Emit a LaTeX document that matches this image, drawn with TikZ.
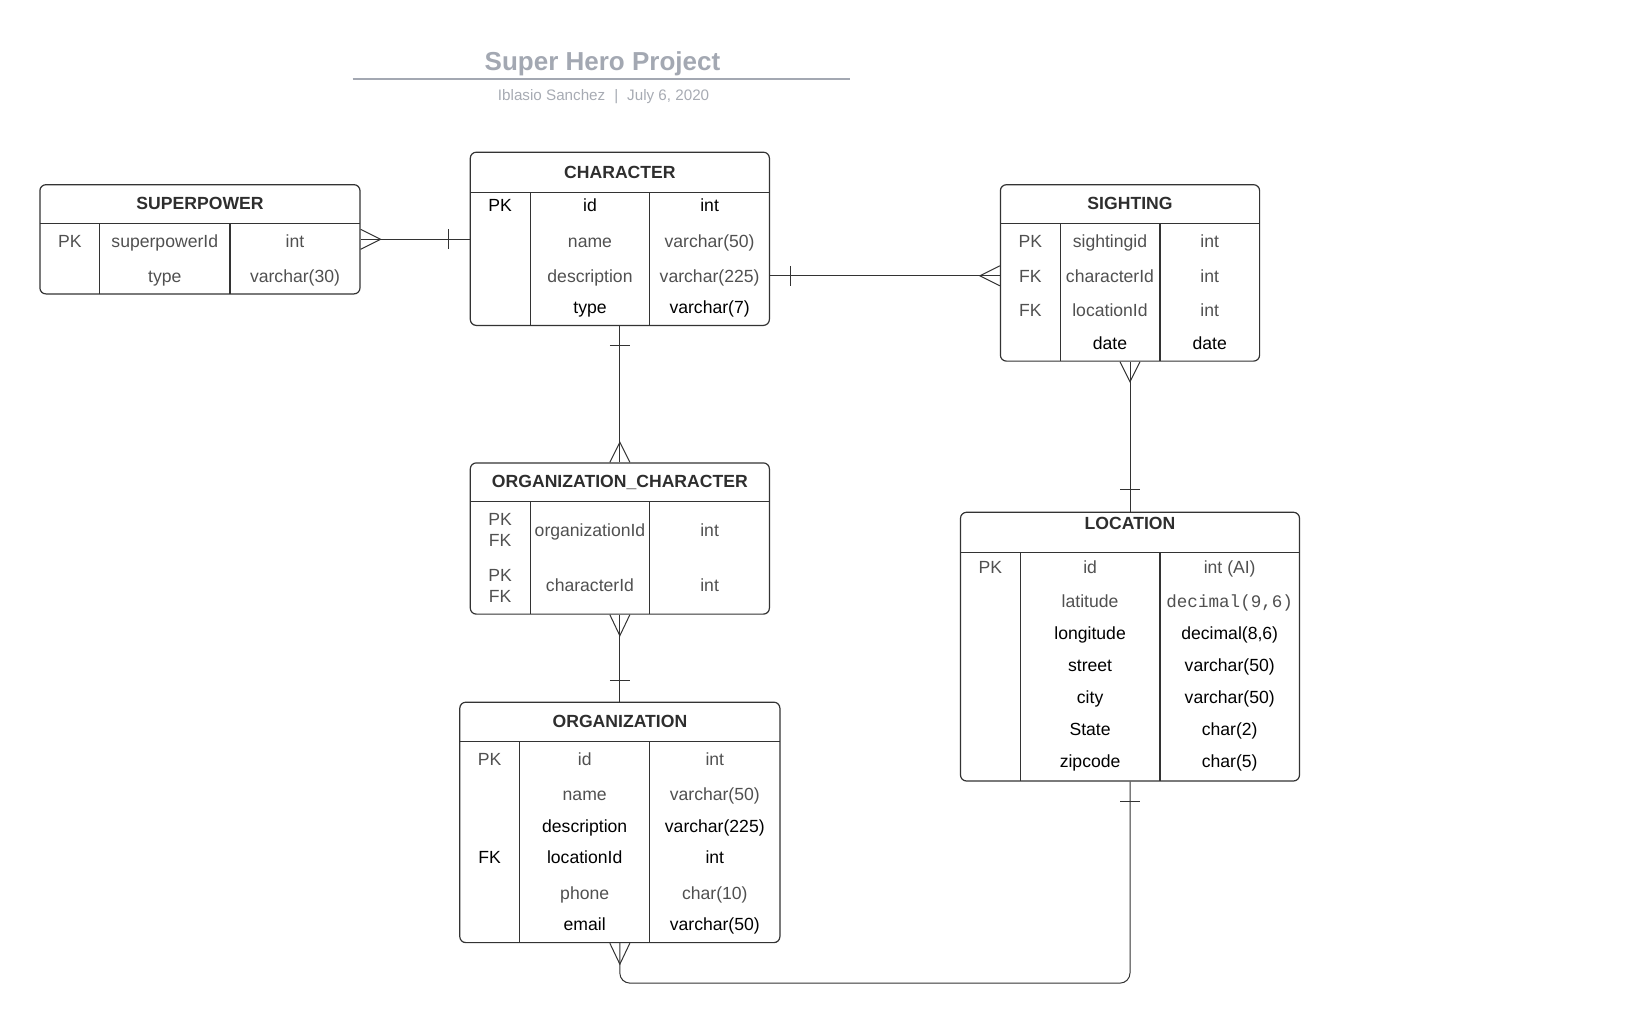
\documentclass[tikz,border=0pt]{standalone}
\usepackage{fontspec}
\setmainfont{Liberation Sans}
\setmonofont{Liberation Mono}
\usetikzlibrary{calc,fit}
\definecolor{linegray}{HTML}{333333}
\definecolor{headgray}{HTML}{2E2E2E}
\definecolor{txtgray}{HTML}{505050}
\definecolor{titlegray}{HTML}{A3A8B2}
\definecolor{subgray}{HTML}{A7ABB3}

\begin{document}
\begin{tikzpicture}[x=0.5pt,y=-0.5pt,
        tbl/.style={rectangle, draw=linegray, line width=0.6pt, rounded corners=3pt, inner sep=0pt},
        head/.style={font=\fontsize{8.8}{10.5}\selectfont\bfseries, text=headgray, inner sep=0pt},
        cell/.style={font=\fontsize{8.8}{10.5}\selectfont, text height=7.6pt, text depth=0.4pt, inner sep=0pt},
        sep/.style={draw=linegray, line width=0.6pt},
        rel/.style={draw=linegray, line width=0.5pt}]
    \useasboundingbox (0,0) rectangle (1646,1024);

    % title
    \node[font=\fontsize{13}{15}\selectfont\bfseries, text=titlegray] (title) at (602.5,63.8) {Super Hero Project};
    \draw[titlegray, line width=0.8pt] (352.7,78.7) -- (850.3,78.7);
    \node[font=\fontsize{7.6}{9}\selectfont, text=subgray] (byline) at (603.6,96.6) {Iblasio Sanchez\hspace{4.5pt}|\hspace{4.5pt}July 6, 2020};

    % SUPERPOWER
    \node[tbl, fit={(39.9,184.7) (360,293.9)}] (SP) {};
    \draw[sep] (39.9,223.6) -- (360,223.6);
    \draw[sep] (99.7,223.6) -- (99.7,293.9);
    \draw[sep] (229.9,223.6) -- (229.9,293.9);
    \node[head] (SP-title) at (200,203.2) {SUPERPOWER};
    \foreach \y/\c/\k/\f/\t [count=\i] in {240.4/txtgray/PK/superpowerId/int, 275.0/txtgray//type/varchar(30)} {
        \node[cell, text=\c] (SP-k\i) at (69.8,\y) {\k};
        \node[cell, text=\c] (SP-f\i) at (164.8,\y) {\f};
        \node[cell, text=\c] (SP-t\i) at (295,\y) {\t};
    }

    % CHARACTER
    \node[tbl, fit={(470.3,152.2) (769.4,325.4)}] (CH) {};
    \draw[sep] (470.3,192.1) -- (769.4,192.1);
    \draw[sep] (530.1,192.1) -- (530.1,325.4);
    \draw[sep] (649.8,192.1) -- (649.8,325.4);
    \node[head] (CH-title) at (619.9,172.2) {CHARACTER};
    \foreach \y/\c/\k/\f/\t [count=\i] in {204.7/black/PK/id/int, 240.4/txtgray//name/varchar(50),
            275.0/txtgray//description/varchar(225), 306.5/black//type/varchar(7)} {
        \node[cell, text=\c] (CH-k\i) at (500.2,\y) {\k};
        \node[cell, text=\c] (CH-f\i) at (590,\y) {\f};
        \node[cell, text=\c] (CH-t\i) at (709.6,\y) {\t};
    }

    % SIGHTING
    \node[tbl, fit={(1000.4,184.7) (1259.6,361.1)}] (SG) {};
    \draw[sep] (1000.4,223.6) -- (1259.6,223.6);
    \draw[sep] (1060.2,223.6) -- (1060.2,361.1);
    \draw[sep] (1159.9,223.6) -- (1159.9,361.1);
    \node[head] (SG-title) at (1130,203.2) {SIGHTING};
    \foreach \y/\c/\k/\f/\t [count=\i] in {240.4/txtgray/PK/sightingid/int, 275.0/txtgray/FK/characterId/int,
            309.7/txtgray/FK/locationId/int, 342.2/black//date/date} {
        \node[cell, text=\c] (SG-k\i) at (1030.3,\y) {\k};
        \node[cell, text=\c] (SG-f\i) at (1110,\y) {\f};
        \node[cell, text=\c] (SG-t\i) at (1209.7,\y) {\t};
    }

    % ORGANIZATION_CHARACTER
    \node[tbl, fit={(470.3,462.9) (769.4,614.1)}] (OC) {};
    \draw[sep] (470.3,501.8) -- (769.4,501.8);
    \draw[sep] (530.1,501.8) -- (530.1,614.1);
    \draw[sep] (649.8,501.8) -- (649.8,614.1);
    \node[head] (OC-title) at (619.9,482.4) {ORGANIZATION\_CHARACTER};
    \foreach \y/\f/\t [count=\i] in {529.0/organizationId/int, 584.7/characterId/int} {
        \node[cell, text=txtgray] (OC-p\i) at (500.2,\y-10.5) {PK};
        \node[cell, text=txtgray] (OC-k\i) at (500.2,\y+10.5) {FK};
        \node[cell, text=txtgray] (OC-f\i) at (590,\y) {\f};
        \node[cell, text=txtgray] (OC-t\i) at (709.6,\y) {\t};
    }

    % ORGANIZATION
    \node[tbl, fit={(459.8,702.2) (779.9,942.6)}] (OR) {};
    \draw[sep] (459.8,741.1) -- (779.9,741.1);
    \draw[sep] (519.6,741.1) -- (519.6,942.6);
    \draw[sep] (649.8,741.1) -- (649.8,942.6);
    \node[head] (OR-title) at (619.9,721.7) {ORGANIZATION};
    \foreach \y/\c/\k/\f/\t [count=\i] in {757.9/txtgray/PK/id/int, 793.6/txtgray//name/varchar(50),
            825.1/black//description/varchar(225), 856.6/black/FK/locationId/int,
            892.3/txtgray//phone/char(10), 923.7/black//email/varchar(50)} {
        \node[cell, text=\c] (OR-k\i) at (489.7,\y) {\k};
        \node[cell, text=\c] (OR-f\i) at (584.7,\y) {\f};
        \node[cell, text=\c] (OR-t\i) at (714.8,\y) {\t};
    }

    % LOCATION
    \node[tbl, fit={(960.5,512.3) (1299.5,781.0)}] (LO) {};
    \draw[sep] (960.5,552.1) -- (1299.5,552.1);
    \draw[sep] (1020.3,552.1) -- (1020.3,781.0);
    \draw[sep] (1159.9,552.1) -- (1159.9,781.0);
    \node[head] (LO-title) at (1130,523.5) {LOCATION};
    \foreach \y/\c/\k/\f/\t [count=\i] in {565.8/txtgray/PK/id/int (AI), 600.4/txtgray//latitude/{\ttfamily decimal(9,6)},
            631.9/black//longitude/{decimal(8,6)}, 664.4/black//street/varchar(50), 696.0/black//city/varchar(50),
            728.5/black//State/char(2), 760.0/black//zipcode/char(5)} {
        \node[cell, text=\c] (LO-k\i) at (990.4,\y) {\k};
        \node[cell, text=\c] (LO-f\i) at (1090.1,\y) {\f};
        \node[cell, text=\c] (LO-t\i) at (1229.7,\y) {\t};
    }

    % superpower -- character
    \draw[rel] (SP.east) -- (SP.east -| CH.west);
    \draw[rel] ($(SP.east)+(0,-10)$) -- ($(SP.east)+(20,0)$) -- ($(SP.east)+(0,10)$);
    \draw[rel] ($(SP.east -| CH.west)+(-21,-10)$) -- ($(SP.east -| CH.west)+(-21,10)$);

    % character -- sighting
    \coordinate (CH-s) at ($(CH.east)+(0,37)$);
    \draw[rel] (CH-s) -- (CH-s -| SG.west);
    \draw[rel] ($(CH-s)+(20,-10)$) -- ($(CH-s)+(20,10)$);
    \draw[rel] ($(CH-s -| SG.west)+(0,-10)$) -- ($(CH-s -| SG.west)+(-20,0)$) -- ($(CH-s -| SG.west)+(0,10)$);

    % character -- organization_character
    \draw[rel] (CH.south) -- (OC.north);
    \draw[rel] ($(CH.south)+(-10,19)$) -- ($(CH.south)+(10,19)$);
    \draw[rel] ($(OC.north)+(-10,0)$) -- ($(OC.north)+(0,-20)$) -- ($(OC.north)+(10,0)$);

    % organization_character -- organization
    \draw[rel] (OC.south) -- (OR.north);
    \draw[rel] ($(OC.south)+(-10,0)$) -- ($(OC.south)+(0,21)$) -- ($(OC.south)+(10,0)$);
    \draw[rel] ($(OR.north)+(-10,-21)$) -- ($(OR.north)+(10,-21)$);

    % sighting -- location
    \draw[rel] (SG.south) -- (LO.north);
    \draw[rel] ($(SG.south)+(-10,0)$) -- ($(SG.south)+(0,20)$) -- ($(SG.south)+(10,0)$);
    \draw[rel] ($(LO.north)+(-10,-22)$) -- ($(LO.north)+(10,-22)$);

    % location -- organization
    \draw[rel, rounded corners=5pt] (LO.south) -- ($(LO.south)+(0,201.5)$) -| (OR.south);
    \draw[rel] ($(LO.south)+(-10,20)$) -- ($(LO.south)+(10,20)$);
    \draw[rel] ($(OR.south)+(-10,0)$) -- ($(OR.south)+(0,21)$) -- ($(OR.south)+(10,0)$);
\end{tikzpicture}
\end{document}
